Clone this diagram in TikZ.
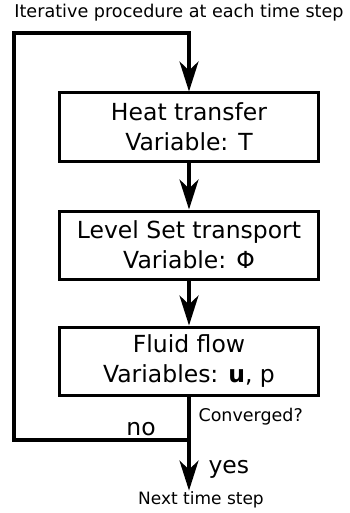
\documentclass[tikz,border=0pt]{standalone}
\usepackage{fontspec}
\setmainfont{DejaVu Sans}
\usetikzlibrary{positioning, arrows.meta}

\begin{document}
\begin{tikzpicture}[x=1pt, y=-1pt,
    stepbox/.style={draw, line width=3pt, minimum width=259pt, minimum height=68pt,
        align=center, inner sep=0pt, font=\fontsize{23.5}{30}\selectfont},
    flow/.style={line width=3.5pt, -{Stealth[length=30pt, width=19pt, inset=9pt]}},
    loopline/.style={line width=3.5pt}]
    \useasboundingbox (0,0) rectangle (349,513);

    % heading
    \node[font=\fontsize{17.6}{20}\selectfont] (title) at (179,13) {Iterative procedure at each time step};

    % the three solver steps
    \node[stepbox] (heat) at (189,127) {Heat transfer\\Variable: T};
    \node[stepbox] (levelset) at (189,245) {Level Set transport\\Variable: Φ};
    \node[stepbox] (fluid) at (189,361) {Fluid flow\\Variables: \textbf{u}, p};

    \draw[flow] (heat) -- (levelset);
    \draw[flow] (levelset) -- (fluid);

    % convergence check and loop back
    \coordinate (junc) at (fluid.south |- 0,440);
    \coordinate (botleft) at (14,440);
    \coordinate (topleft) at (14,33);
    \coordinate (topright) at (heat.north |- 0,33);
    \draw[loopline] (fluid.south) -- (junc);
    \draw[flow] (junc) -- (botleft) -- (topleft) -- (topright) -- (heat.north);

    \node[font=\fontsize{17.5}{20}\selectfont, anchor=west] (conv) at (195,417) {Converged?};
    \node[font=\fontsize{23.5}{26}\selectfont] (no) at (141,429) {no};

    % exit to the next time step
    \node[font=\fontsize{17}{20}\selectfont, inner sep=1pt] (next) at (201,500) {Next time step};
    \draw[flow] (junc) -- (junc |- next.north);
    \node[font=\fontsize{23.5}{26}\selectfont, anchor=west] (yes) at (205,469) {yes};
\end{tikzpicture}
\end{document}
